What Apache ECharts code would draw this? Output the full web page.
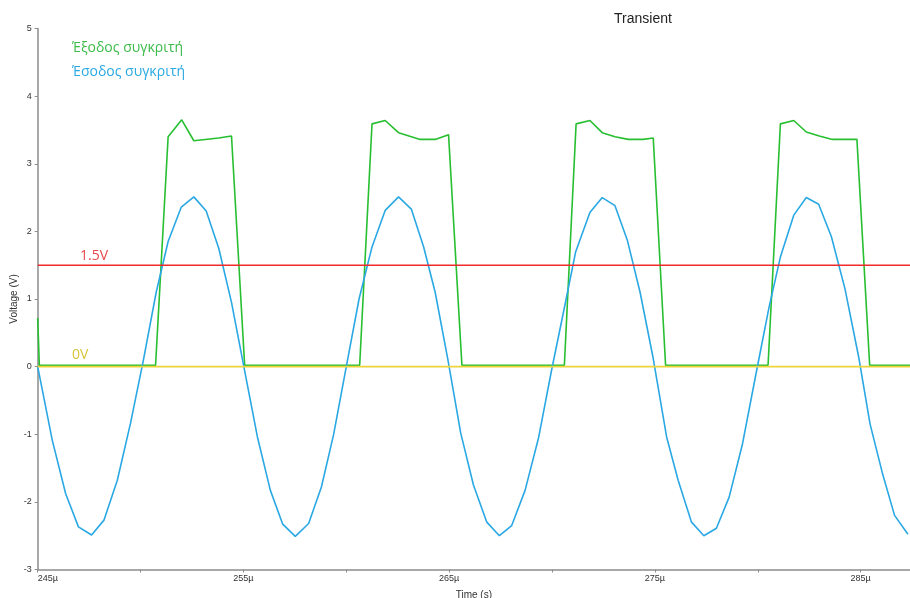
<!DOCTYPE html>
<html>
<head>
<meta charset="utf-8">
<script src="https://cdn.jsdelivr.net/npm/echarts@6/dist/echarts.min.js"></script>
<style>
  html, body { margin: 0; padding: 0; background: #ffffff; }
  #chart { width: 910px; height: 598px; }
</style>
</head>
<body>
<div id="chart"></div>
<script>
// Transient simulation of a comparator: time in µs, voltage in V.

// Comparator input (sampled sine), [time µs, V]
const inputWave = [
  [245.00, 0.00], [245.71, -1.09], [246.36, -1.88], [246.98, -2.37], [247.62, -2.49],
  [248.22, -2.27], [248.87, -1.68], [249.51, -0.84], [250.14, 0.10], [250.76, 1.10],
  [251.34, 1.85], [251.98, 2.36], [252.59, 2.51], [253.19, 2.30], [253.80, 1.75],
  [254.42, 0.95], [255.02, 0.00],
  [255.68, -1.04], [256.31, -1.83], [256.91, -2.33], [257.52, -2.51], [258.17, -2.32],
  [258.79, -1.78], [259.38, -1.01], [260.00, 0.00], [260.62, 1.00], [261.25, 1.77],
  [261.89, 2.31], [262.54, 2.51], [263.16, 2.33], [263.76, 1.77], [264.32, 1.10],
  [264.94, 0.10],
  [265.56, -0.98], [266.18, -1.75], [266.83, -2.30], [267.44, -2.50], [268.04, -2.35],
  [268.69, -1.83], [269.34, -1.06], [269.98, -0.05], [270.62, 0.90], [271.15, 1.70],
  [271.84, 2.28], [272.44, 2.50], [273.06, 2.38], [273.66, 1.87], [274.28, 1.10],
  [274.90, 0.15],
  [275.57, -1.04], [276.13, -1.68], [276.78, -2.30], [277.38, -2.50], [277.99, -2.39],
  [278.61, -1.93], [279.26, -1.14], [279.95, -0.05], [280.55, 0.88], [281.10, 1.62],
  [281.75, 2.24], [282.36, 2.50], [282.96, 2.40], [283.58, 1.92], [284.24, 1.15],
  [284.90, 0.15], [285.46, -0.85], [286.08, -1.60], [286.65, -2.20], [287.30, -2.48]
];

// Comparator output, [time µs, V]
const outputWave = [
  [245.00, 0.72], [245.08, 0.02], [250.73, 0.02], [251.34, 3.40], [252.00, 3.65],
  [252.59, 3.34], [253.80, 3.38], [254.42, 3.41], [255.06, 0.02],
  [260.65, 0.02], [261.25, 3.59], [261.89, 3.64], [262.54, 3.46], [263.59, 3.36],
  [264.32, 3.36], [264.97, 3.43], [265.62, 0.02],
  [270.60, 0.02], [271.17, 3.59], [271.84, 3.64], [272.44, 3.46], [273.06, 3.40],
  [273.70, 3.36], [274.43, 3.36], [274.92, 3.38], [275.52, 0.02],
  [280.50, 0.02], [281.10, 3.59], [281.75, 3.64], [282.36, 3.47], [282.99, 3.41],
  [283.63, 3.36], [284.82, 3.36], [285.44, 0.02], [287.40, 0.02]
];

// Reference levels
const timeSpan = [245, 287.4];
const thresholdLevel = 1.5;
const groundLevel = 0;

// Axis settings
const xTickStep = 5;
const yRange = [-3, 5];

const seriesNames = ['Έξοδος συγκριτή', 'Έσοδος συγκριτή'];
const levelNames = ['1.5V', '0V'];

const chart = echarts.init(document.getElementById('chart'), null, { renderer: 'canvas' });

const labelFont = "'Liberation Sans Narrow', 'Liberation Sans', Arial, sans-serif";
const textFont = "'Open Sans', 'Noto Sans', sans-serif";

chart.setOption({
  animation: false,
  backgroundColor: '#ffffff',
  title: {
    text: 'Transient',
    left: 609,
    top: 7,
    textStyle: { fontFamily: "'Liberation Sans', Arial, sans-serif", fontSize: 14, fontWeight: 'normal', color: '#222222' }
  },
  grid: { left: 37.7, right: 0, top: 28.5, bottom: 28.5, containLabel: false, outerBoundsMode: 'none' },
  xAxis: {
    type: 'value',
    min: timeSpan[0],
    max: timeSpan[1],
    interval: xTickStep,
    name: 'Time (s)',
    nameLocation: 'middle',
    nameGap: 21,
    nameMoveOverlap: false,
    nameTextStyle: { fontFamily: labelFont, fontSize: 10, color: '#333333' },
    axisLine: { onZero: false, lineStyle: { color: '#8c8c8c', width: 1.5 } },
    axisTick: { length: 3, lineStyle: { color: '#8c8c8c' } },
    splitLine: { show: false },
    axisLabel: {
      fontFamily: labelFont, fontSize: 9, color: '#333333', margin: 5,
      showMaxLabel: false,
      alignMinLabel: 'left',
      formatter: function (v) { return (Math.round(v) % 10 === 5) ? Math.round(v) + 'µ' : ''; }
    }
  },
  yAxis: {
    type: 'value',
    min: yRange[0],
    max: yRange[1],
    interval: 1,
    name: 'Voltage (V)',
    nameLocation: 'middle',
    nameGap: 18,
    nameMoveOverlap: false,
    nameRotate: 90,
    nameTextStyle: { fontFamily: labelFont, fontSize: 10, color: '#333333' },
    axisLine: { show: true, onZero: false, lineStyle: { color: '#8c8c8c', width: 1.5 } },
    axisTick: { show: true, length: 3, lineStyle: { color: '#8c8c8c' } },
    splitLine: { show: false },
    axisLabel: { fontFamily: labelFont, fontSize: 9, color: '#333333', margin: 6 }
  },
  series: [
    {
      name: seriesNames[0], type: 'line', data: outputWave, showSymbol: false, symbol: 'none',
      lineStyle: { color: '#27bf30', width: 1.6 }, z: 2
    },
    {
      name: seriesNames[1], type: 'line', data: inputWave, showSymbol: false, symbol: 'none',
      lineStyle: { color: '#2aa8e4', width: 1.6 }, z: 3
    },
    {
      name: levelNames[0], type: 'line',
      data: [[timeSpan[0], thresholdLevel], [timeSpan[1], thresholdLevel]],
      showSymbol: false, symbol: 'none',
      lineStyle: { color: '#f22a2a', width: 1.6 }, z: 4
    },
    {
      name: levelNames[1], type: 'line',
      data: [[timeSpan[0], groundLevel], [timeSpan[1], groundLevel]],
      showSymbol: false, symbol: 'none',
      lineStyle: { color: '#ecd43a', width: 1.6 }, z: 4
    }
  ],
  graphic: [
    { type: 'text', left: 72, top: 41, z: 10,
      style: { text: seriesNames[0], fill: '#3dbb4a', font: '14px ' + textFont } },
    { type: 'text', left: 72, top: 65, z: 10,
      style: { text: seriesNames[1], fill: '#2aa9e2', font: '14px ' + textFont } },
    { type: 'text', left: 80, top: 249, z: 10,
      style: { text: levelNames[0], fill: '#e8474a', font: '14px ' + textFont } },
    { type: 'text', left: 72, top: 348, z: 10,
      style: { text: levelNames[1], fill: '#d9c43a', font: '14px ' + textFont } }
  ]
});
</script>
</body>
</html>
